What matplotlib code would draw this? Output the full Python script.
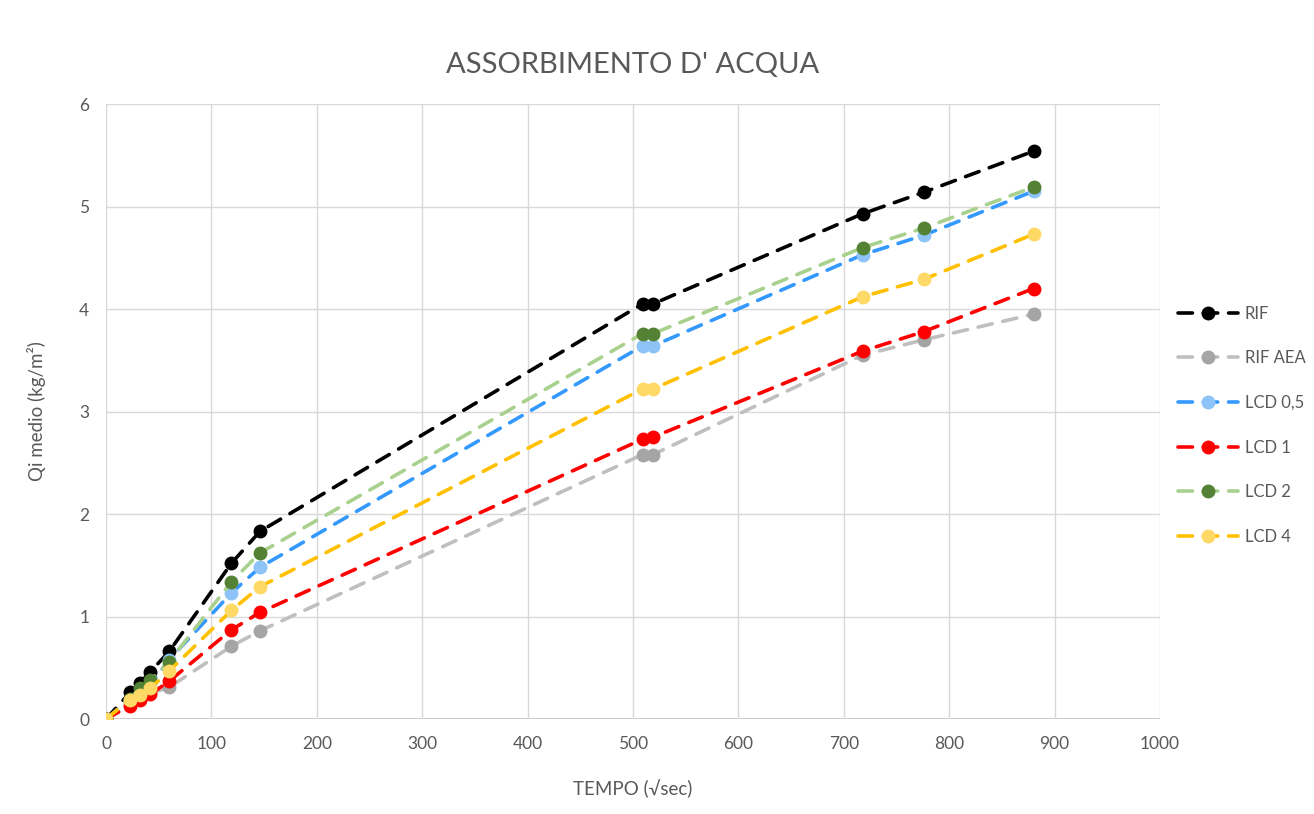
import matplotlib
matplotlib.use("Agg")
import matplotlib.pyplot as plt

plt.rcParams['font.family'] = ['Liberation Sans Narrow', 'Lato', 'DejaVu Sans']

# tempo in radice di secondi
tempo = [0, 23, 32, 42, 60, 119, 146, 509, 519, 718, 776, 880]

rif = [0, 0.26, 0.35, 0.46, 0.66, 1.52, 1.83, 4.05, 4.05, 4.93, 5.14, 5.54]
rif_aea = [0, 0.15, 0.20, 0.25, 0.31, 0.71, 0.86, 2.58, 2.58, 3.55, 3.70, 3.95]
lcd_05 = [0, 0.18, 0.25, 0.33, 0.58, 1.23, 1.48, 3.64, 3.64, 4.53, 4.72, 5.15]
lcd_1 = [0, 0.13, 0.19, 0.24, 0.37, 0.87, 1.04, 2.73, 2.75, 3.59, 3.78, 4.20]
lcd_2 = [0, 0.20, 0.30, 0.38, 0.56, 1.34, 1.62, 3.76, 3.76, 4.60, 4.79, 5.19]
lcd_4 = [0, 0.19, 0.23, 0.30, 0.47, 1.06, 1.29, 3.22, 3.22, 4.12, 4.29, 4.73]

labels = ['RIF', 'RIF AEA', 'LCD 0,5', 'LCD 1', 'LCD 2', 'LCD 4']
series = [rif, rif_aea, lcd_05, lcd_1, lcd_2, lcd_4]
line_colors = ['#000000', '#BFBFBF', '#3399FF', '#FF0000', '#A9D18E', '#FFC000']
marker_colors = ['#000000', '#A5A5A5', '#8DC3F7', '#FF0000', '#548235', '#FFD966']

fig = plt.figure(figsize=(13.14, 8.14), dpi=100)
ax = fig.add_axes([0.0807, 0.1167, 0.8021, 0.7555])

for vals, lab, lc, mc in zip(series, labels, line_colors, marker_colors):
    ax.plot(tempo, vals, color=lc, lw=2.6, dashes=(4, 3), dash_capstyle='round',
            marker='o', markersize=9, markerfacecolor=mc, markeredgecolor=mc,
            label=lab)

ax.set_xlim(0, 1000)
ax.set_ylim(0, 6)
ax.set_xticks(range(0, 1001, 100))
ax.set_yticks(range(0, 7))
ax.grid(True, color='#D9D9D9', lw=1)
ax.set_axisbelow(True)
for s in ax.spines.values():
    s.set_visible(False)
ax.axhline(0, color='#BFBFBF', lw=1.2, zorder=0.5)
ax.axvline(0, color='#BFBFBF', lw=1.2, zorder=0.5)
ax.tick_params(length=0, labelsize=12.5, colors='#595959', pad=12)

ax.set_xlabel('TEMPO (√sec)', fontsize=13.5, color='#595959', labelpad=20)
ax.set_ylabel('Qi medio (kg/m²)', fontsize=13.5, color='#595959', labelpad=24)
ax.set_title("ASSORBIMENTO D' ACQUA", fontsize=21, color='#595959', pad=22)

fig.legend(loc='upper left', bbox_to_anchor=(0.885, 0.643), frameon=False,
           fontsize=12, labelcolor='#595959', handlelength=3.6,
           labelspacing=1.72, handletextpad=0.4)

fig.savefig('out.png', dpi=100, facecolor='white')
